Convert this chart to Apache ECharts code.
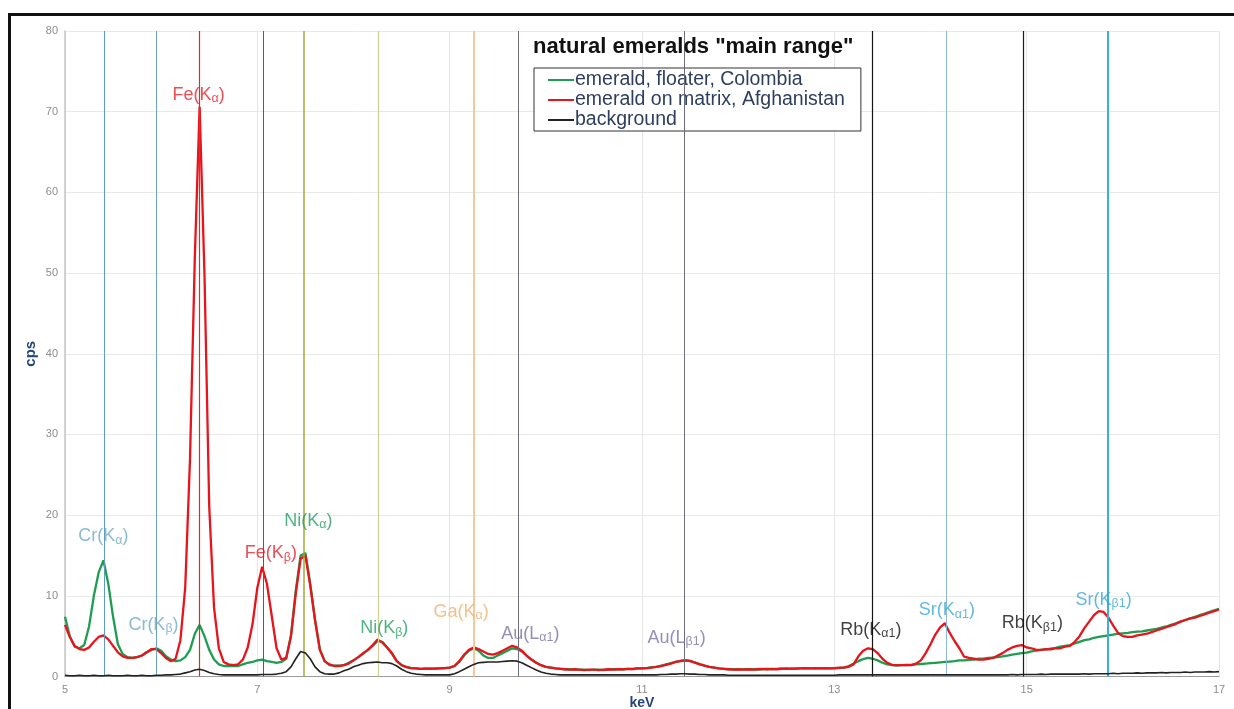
<!DOCTYPE html>
<html>
<head>
<meta charset="utf-8">
<title>natural emeralds "main range"</title>
<script src="https://cdn.jsdelivr.net/npm/echarts@6/dist/echarts.min.js"></script>
<style>
  html, body { margin: 0; padding: 0; background: #fff; }
  #chart { width: 1234px; height: 709px; }
</style>
</head>
<body>
<div id="chart"></div>
<script>
// XRF spectra, 5–17 keV, sampled every 0.05 keV (one row = 1 keV)
const startKeV = 5;
const stepKeV = 0.05;

// emerald, floater, Colombia
const colombia = [
  7.4, 5.0, 3.7, 3.5, 3.9, 6.2, 10.0, 12.9, 14.4, 11.5, 7.4, 4.0, 2.8, 2.4, 2.3, 2.4, 2.6, 3.0, 3.3, 3.5,
  3.2, 2.5, 2.1, 1.9, 2.0, 2.4, 3.3, 5.3, 6.4, 5.0, 3.3, 2.1, 1.5, 1.3, 1.3, 1.3, 1.3, 1.5, 1.7, 1.8,
  2.0, 2.1, 1.9, 1.8, 1.7, 1.8, 2.2, 5.1, 10.7, 15.0, 15.3, 11.5, 7.0, 3.4, 1.9, 1.4, 1.35, 1.35, 1.4, 1.7,
  2.0, 2.4, 2.8, 3.3, 3.8, 4.4, 4.3, 3.6, 2.8, 1.9, 1.4, 1.2, 1.05, 1.0, 0.95, 0.95, 1.0, 0.95, 1.0, 1.05,
  1.1, 1.3, 1.8, 2.6, 3.2, 3.5, 3.2, 2.6, 2.3, 2.3, 2.6, 2.9, 3.2, 3.5, 3.4, 3.1, 2.6, 2.1, 1.7, 1.4,
  1.2, 1.1, 1.0, 0.95, 0.9, 0.9, 0.85, 0.85, 0.85, 0.8, 0.85, 0.85, 0.8, 0.85, 0.9, 0.9, 0.85, 0.95, 0.95, 1.0,
  1.0, 1.05, 1.15, 1.2, 1.35, 1.5, 1.65, 1.8, 1.95, 2.0, 1.95, 1.75, 1.55, 1.35, 1.2, 1.1, 1.0, 0.95, 0.9, 0.9,
  0.85, 0.9, 0.9, 0.9, 0.85, 0.9, 0.95, 0.9, 0.95, 1.0, 0.95, 1.0, 0.95, 1.0, 1.05, 1.0, 1.0, 1.05, 1.0, 1.05,
  1.0, 1.05, 1.1, 1.3, 1.6, 1.9, 2.15, 2.3, 2.2, 2.0, 1.7, 1.5, 1.4, 1.35, 1.4, 1.4, 1.45, 1.5, 1.55, 1.6,
  1.65, 1.7, 1.75, 1.8, 1.85, 1.9, 2.0, 2.0, 2.05, 2.1, 2.2, 2.2, 2.3, 2.35, 2.4, 2.5, 2.6, 2.7, 2.8, 2.9,
  2.95, 3.1, 3.2, 3.3, 3.35, 3.45, 3.55, 3.7, 3.8, 3.9, 4.1, 4.3, 4.5, 4.6, 4.8, 4.9, 5.0, 5.1, 5.2, 5.3,
  5.35, 5.4, 5.5, 5.55, 5.6, 5.7, 5.8, 5.9, 6.05, 6.2, 6.4, 6.6, 6.8, 7.0, 7.2, 7.4, 7.6, 7.8, 8.0, 8.2,
  8.4
];

// emerald on matrix, Afghanistan
const afghanistan = [
  6.4, 4.9, 3.8, 3.4, 3.3, 3.6, 4.3, 4.9, 5.1, 4.6, 3.8, 3.0, 2.5, 2.3, 2.3, 2.4, 2.6, 3.0, 3.4, 3.4,
  2.9, 2.3, 1.9, 2.2, 4.5, 11.0, 27.0, 52.0, 70.6, 50.0, 21.0, 8.5, 3.5, 1.8, 1.5, 1.4, 1.5, 2.1, 3.6, 6.5,
  11.0, 13.6, 11.5, 7.5, 3.5, 2.1, 2.3, 5.0, 10.3, 14.6, 15.0, 11.3, 7.0, 3.3, 1.9, 1.5, 1.3, 1.3, 1.4, 1.6,
  2.0, 2.4, 2.9, 3.3, 3.9, 4.6, 4.2, 3.6, 2.9, 1.9, 1.4, 1.15, 1.05, 1.0, 0.95, 1.0, 0.95, 1.0, 1.0, 1.05,
  1.1, 1.3, 1.9, 2.7, 3.3, 3.6, 3.4, 3.1, 2.8, 2.7, 2.9, 3.2, 3.5, 3.8, 3.6, 3.2, 2.6, 2.1, 1.7, 1.4,
  1.2, 1.1, 1.0, 0.95, 0.9, 0.85, 0.9, 0.85, 0.8, 0.85, 0.85, 0.8, 0.85, 0.9, 0.85, 0.9, 0.9, 0.95, 0.9, 1.0,
  1.0, 1.05, 1.1, 1.2, 1.3, 1.45, 1.6, 1.8, 1.9, 2.0, 1.9, 1.7, 1.5, 1.35, 1.2, 1.1, 1.0, 0.95, 0.9, 0.85,
  0.9, 0.85, 0.9, 0.85, 0.9, 0.95, 0.9, 0.95, 0.9, 0.95, 1.0, 0.95, 1.0, 1.0, 1.05, 1.0, 1.05, 1.0, 1.05, 1.0,
  1.05, 1.1, 1.1, 1.2, 1.5, 2.5, 3.2, 3.5, 3.4, 2.9, 2.2, 1.7, 1.45, 1.4, 1.4, 1.45, 1.4, 1.6, 2.0, 2.9,
  4.0, 5.2, 6.1, 6.6, 5.4, 4.4, 3.5, 2.45, 2.3, 2.2, 2.1, 2.1, 2.2, 2.3, 2.6, 2.9, 3.3, 3.6, 3.8, 3.9,
  3.6, 3.5, 3.3, 3.3, 3.4, 3.35, 3.5, 3.5, 3.7, 3.8, 4.3, 5.0, 6.0, 6.8, 7.6, 8.1, 8.0, 7.3, 6.3, 5.4,
  5.0, 4.9, 4.9, 5.1, 5.2, 5.3, 5.5, 5.7, 5.9, 6.1, 6.3, 6.5, 6.8, 7.0, 7.2, 7.3, 7.5, 7.7, 7.9, 8.1,
  8.3
];

// background
const background = [
  0.15, 0.1, 0.1, 0.15, 0.1, 0.1, 0.15, 0.1, 0.1, 0.15, 0.1, 0.1, 0.1, 0.15, 0.1, 0.1, 0.15, 0.1, 0.1, 0.15,
  0.15, 0.2, 0.2, 0.25, 0.3, 0.45, 0.6, 0.8, 0.9, 0.75, 0.5, 0.35, 0.25, 0.2, 0.2, 0.2, 0.2, 0.2, 0.2, 0.2,
  0.2, 0.25, 0.25, 0.25, 0.3, 0.4, 0.6, 1.2, 2.2, 3.1, 2.9, 2.2, 1.2, 0.6, 0.35, 0.3, 0.3, 0.45, 0.7, 0.9,
  1.2, 1.4, 1.6, 1.7, 1.75, 1.8, 1.7, 1.7, 1.6, 1.3, 0.9, 0.6, 0.4, 0.3, 0.25, 0.2, 0.2, 0.2, 0.2, 0.2,
  0.2, 0.35, 0.6, 0.9, 1.2, 1.5, 1.7, 1.75, 1.8, 1.8, 1.8, 1.85, 1.9, 1.95, 1.9, 1.7, 1.4, 1.1, 0.8, 0.55,
  0.4, 0.3, 0.25, 0.2, 0.2, 0.2, 0.2, 0.2, 0.2, 0.2, 0.2, 0.2, 0.2, 0.2, 0.2, 0.2, 0.2, 0.2, 0.2, 0.2,
  0.2, 0.2, 0.2, 0.2, 0.25, 0.25, 0.3, 0.3, 0.35, 0.35, 0.3, 0.3, 0.25, 0.25, 0.2, 0.2, 0.2, 0.2, 0.15, 0.15,
  0.15, 0.15, 0.15, 0.15, 0.15, 0.15, 0.15, 0.15, 0.15, 0.15, 0.15, 0.15, 0.15, 0.15, 0.15, 0.15, 0.15, 0.15, 0.15, 0.15,
  0.15, 0.2, 0.2, 0.2, 0.2, 0.2, 0.2, 0.2, 0.2, 0.2, 0.2, 0.2, 0.2, 0.2, 0.2, 0.2, 0.2, 0.2, 0.2, 0.2,
  0.2, 0.2, 0.2, 0.2, 0.2, 0.2, 0.2, 0.2, 0.2, 0.2, 0.2, 0.2, 0.2, 0.2, 0.2, 0.2, 0.2, 0.25, 0.2, 0.25,
  0.25, 0.25, 0.25, 0.3, 0.25, 0.3, 0.3, 0.3, 0.3, 0.3, 0.3, 0.3, 0.35, 0.3, 0.35, 0.35, 0.35, 0.35, 0.4, 0.35,
  0.4, 0.4, 0.4, 0.45, 0.4, 0.45, 0.45, 0.45, 0.5, 0.45, 0.5, 0.5, 0.5, 0.55, 0.5, 0.55, 0.55, 0.55, 0.6, 0.55,
  0.6
];

// characteristic emission lines: element, shell, subscript, energy (keV)
const lineElements = ['Cr', 'Cr', 'Fe', 'Fe', 'Ni', 'Ni', 'Ga', 'Au', 'Au', 'Rb', 'Sr', 'Rb', 'Sr'];
const lineShells = ['K', 'K', 'K', 'K', 'K', 'K', 'K', 'L', 'L', 'K', 'K', 'K', 'K'];
const lineSubs = ['α', 'β', 'α', 'β', 'α', 'β', 'α', 'α1', 'β1', 'α1', 'α1', 'β1', 'β1'];
const lineEnergies = [5.41, 5.95, 6.40, 7.06, 7.48, 8.26, 9.25, 9.71, 11.44, 13.39, 14.16, 14.96, 15.84];

// where each line's name sits, in axis units (keV, cps)
const labelKeV = [5.40, 5.92, 6.39, 7.14, 7.53, 8.32, 9.12, 9.84, 11.36, 13.38, 14.17, 15.06, 15.80];
const labelCps = [17.4, 6.4, 72.1, 15.3, 19.3, 6.0, 8.0, 5.3, 4.8, 5.8, 8.2, 6.6, 9.5];

const seriesNames = ['emerald, floater, Colombia', 'emerald on matrix, Afghanistan', 'background'];
const xTicks = [5, 7, 9, 11, 13, 15, 17];

// styling per emission line
const lineColors = ['#5e9db6', '#6aa6bc', '#e22a2a', '#b23342', '#a3a83a', '#cfcf95', '#f6c99c', '#6c6c7c', '#6c6c7c', '#151515', '#8dbad2', '#1c1c1c', '#38b2d2'];
const lineWidths = [1, 1, 1.2, 1, 1.5, 1.2, 2, 1, 1, 1.2, 1, 1.2, 2];
const labelColors = ['#6eaac8', '#6eaac8', '#e8202a', '#e8202a', '#24a062', '#24a062', '#f0b070', '#7d72a6', '#7d72a6', '#111111', '#3aa8d8', '#111111', '#3aa8d8'];

const energies = afghanistan.map((_, i) => +(startKeV + i * stepKeV).toFixed(2));
const pairs = arr => arr.map((v, i) => [energies[i], v]);

const FONT = '"Liberation Sans", Arial, sans-serif';

const chart = echarts.init(document.getElementById('chart'), null, { renderer: 'canvas' });

const labelData = lineElements.map((el, i) => ({
  value: [labelKeV[i], labelCps[i]],
  label: {
    color: labelColors[i],
    formatter: '{m|' + el + '(' + lineShells[i] + '}{s|' + lineSubs[i] + '}{m|)}'
  }
}));

const markLineData = lineEnergies.map((e, i) => ({
  xAxis: e,
  lineStyle: { color: lineColors[i], width: lineWidths[i], type: 'solid' }
}));

chart.setOption({
  animation: false,
  backgroundColor: '#ffffff',
  textStyle: { fontFamily: FONT },
  title: {
    text: 'natural emeralds "main range"',
    left: 533,
    top: 34,
    padding: 0,
    textStyle: { fontFamily: FONT, fontSize: 22, fontWeight: 'bold', color: '#111111', lineHeight: 25 }
  },
  legend: {
    data: seriesNames,
    orient: 'vertical',
    left: 534,
    top: 68,
    padding: [2, 16, 1, 14],
    itemGap: 0,
    itemWidth: 26,
    itemHeight: 2,
    icon: 'rect',
    backgroundColor: '#ffffff',
    borderColor: '#333333',
    borderWidth: 1,
    selectedMode: false,
    textStyle: { fontFamily: FONT, fontSize: 19.5, lineHeight: 19, color: '#2d3e5e', padding: [0, 0, 0, -4] }
  },
  grid: { left: 65, right: 15, top: 31, bottom: 32.5, outerBoundsMode: 'none', containLabel: false },
  xAxis: {
    type: 'value',
    min: 5,
    max: 17,
    interval: 1,
    name: 'keV',
    nameLocation: 'middle',
    nameGap: 20,
    nameMoveOverlap: false,
    nameTextStyle: { fontFamily: FONT, fontSize: 14, fontWeight: 'bold', color: '#24467a' },
    axisLine: { show: true, lineStyle: { color: '#9a9a9a', width: 1 } },
    axisTick: { show: false },
    axisLabel: {
      color: '#8c8c8c',
      fontSize: 11,
      margin: 8,
      formatter: v => (xTicks.indexOf(v) >= 0 ? String(v) : '')
    },
    // odd keV gridlines only
    splitLine: { show: true, lineStyle: { color: ['#e6e6e6', 'rgba(0,0,0,0)'], width: 1 } }
  },
  yAxis: {
    type: 'value',
    min: 0,
    max: 80,
    interval: 10,
    name: 'cps',
    nameLocation: 'middle',
    nameRotate: 90,
    nameGap: 27,
    nameMoveOverlap: false,
    nameTextStyle: { fontFamily: FONT, fontSize: 15, fontWeight: 'bold', color: '#24467a' },
    axisLine: { show: true, lineStyle: { color: '#c4c4c4', width: 1.5 } },
    axisTick: { show: false },
    axisLabel: { color: '#8c8c8c', fontSize: 11, margin: 7 },
    splitLine: { show: true, lineStyle: { color: '#e9e9e9', width: 1 } }
  },
  series: [
    {
      name: 'emission lines',
      type: 'line',
      data: [],
      z: 1,
      silent: true,
      markLine: {
        silent: true,
        symbol: 'none',
        label: { show: false },
        data: markLineData
      }
    },
    {
      name: seriesNames[0],
      type: 'line',
      data: pairs(colombia),
      showSymbol: false,
      symbol: 'none',
      z: 3,
      color: '#1d9d50',
      lineStyle: { color: '#1d9d50', width: 2.3 }
    },
    {
      name: seriesNames[1],
      type: 'line',
      data: pairs(afghanistan),
      showSymbol: false,
      symbol: 'none',
      z: 4,
      color: '#e8141c',
      lineStyle: { color: '#e8141c', width: 2.3 }
    },
    {
      name: seriesNames[2],
      type: 'line',
      data: pairs(background),
      showSymbol: false,
      symbol: 'none',
      z: 5,
      color: '#222222',
      lineStyle: { color: '#222222', width: 1.6 }
    },
    {
      name: 'line names',
      type: 'scatter',
      data: labelData,
      symbolSize: 0,
      z: 6,
      silent: true,
      label: {
        show: true,
        position: 'inside',
        fontFamily: FONT,
        rich: {
          m: { fontFamily: FONT, fontSize: 18, lineHeight: 21, verticalAlign: 'middle' },
          s: { fontFamily: FONT, fontSize: 12.5, lineHeight: 12, verticalAlign: 'bottom' }
        }
      }
    }
  ],
  graphic: [
    {
      type: 'rect',
      silent: true,
      z: 100,
      shape: { x: 9.5, y: 14.5, width: 1240, height: 720 },
      style: { fill: 'none', stroke: '#111111', lineWidth: 3 }
    }
  ]
});
</script>
</body>
</html>
